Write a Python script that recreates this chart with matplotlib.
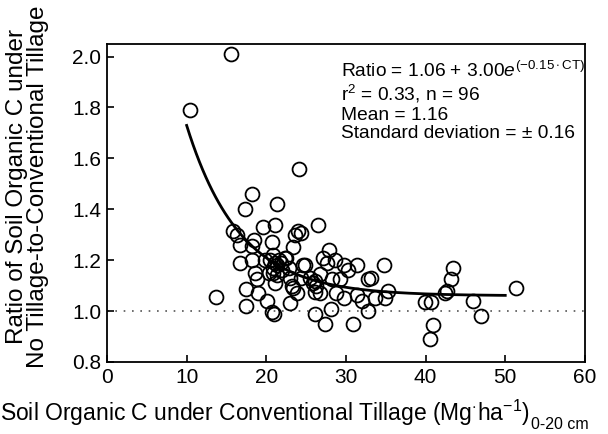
import matplotlib
matplotlib.use('Agg')
import matplotlib.pyplot as plt
import numpy as np

plt.rcParams['font.family'] = ['Liberation Sans', 'DejaVu Sans']
plt.rcParams['mathtext.fontset'] = 'custom'
plt.rcParams['mathtext.rm'] = 'Liberation Sans'
plt.rcParams['mathtext.it'] = 'Liberation Sans:italic'

# soil organic C under conventional tillage (Mg/ha, 0-20 cm)
soc_ct = [10.4, 15.6, 24.1, 18.2, 21.4, 17.3, 15.8, 16.3, 19.6, 21.1,
          26.5, 24.0, 24.3, 18.4, 16.7, 20.7, 23.4, 27.9, 27.1, 27.6,
          16.7, 18.2, 21.1, 22.5, 24.6, 28.6, 29.7, 30.3, 31.4, 34.75,
          32.8, 33.2, 18.6, 18.8, 20.9, 21.1, 23.0, 23.2, 26.7, 28.2,
          29.2, 25.9, 26.3, 26.7, 28.8, 17.5, 19.0, 20.1, 17.5, 20.7,
          21.0, 23.0, 23.8, 26.1, 27.4, 28.1, 30.9, 29.7, 31.4, 32.0,
          33.6, 34.9, 35.3, 32.8, 13.7, 39.9, 40.7, 40.9, 40.6, 42.4,
          42.7, 43.2, 43.5, 46.0, 47.0, 51.4, 24.9, 20.5, 20.9, 21.4,
          20.3, 21.3, 21.9, 22.3, 22.0, 20.8, 21.6, 23.6, 18.2, 24.4,
          25.5, 26.1, 23.4, 26.1, 22.8, 19.8]
# ratio NT / CT
ratio = [1.79, 2.01, 1.56, 1.46, 1.42, 1.40, 1.315, 1.30, 1.33, 1.34,
         1.34, 1.315, 1.305, 1.28, 1.26, 1.27, 1.25, 1.24, 1.21, 1.19,
         1.19, 1.20, 1.19, 1.21, 1.18, 1.20, 1.18, 1.16, 1.18, 1.18,
         1.125, 1.13, 1.15, 1.125, 1.15, 1.11, 1.13, 1.10, 1.145, 1.125,
         1.125, 1.11, 1.10, 1.07, 1.07, 1.085, 1.07, 1.04, 1.02, 0.995,
         0.99, 1.03, 1.07, 0.99, 0.95, 1.01, 0.95, 1.05, 1.065, 1.04,
         1.05, 1.05, 1.08, 1.0, 1.055, 1.035, 1.035, 0.945, 0.89, 1.07,
         1.08, 1.125, 1.17, 1.04, 0.98, 1.09, 1.18, 1.20, 1.22, 1.18,
         1.15, 1.14, 1.19, 1.21, 1.16, 1.17, 1.20, 1.30, 1.255, 1.13,
         1.13, 1.12, 1.09, 1.075, 1.17, 1.20]

fit_a, fit_b, fit_k = 1.06, 3.00, -0.15

fig = plt.figure(figsize=(6.08, 4.34), dpi=100)
ax = fig.add_axes([0.176, 0.166, 0.786, 0.733])

ax.axhline(1.0, color='#555555', linestyle=(0, (1, 4)), linewidth=1.2, zorder=1)
ax.plot(soc_ct, ratio, 'o', mfc='none', mec='black', ms=10, mew=1.3, zorder=2)

xf = np.linspace(10, 50, 200)
ax.plot(xf, fit_a + fit_b * np.exp(fit_k * xf), color='black', lw=2.0, zorder=3)

ax.set_xlim(0, 60)
ax.set_ylim(0.8, 2.05)
ax.set_xticks([0, 10, 20, 30, 40, 50, 60])
ax.set_yticks([0.8, 1.0, 1.2, 1.4, 1.6, 1.8, 2.0])
ax.set_yticklabels(['0.8', '1.0', '1.2', '1.4', '1.6', '1.8', '2.0'])
ax.tick_params(direction='in', length=5, width=1.2, labelsize=15, pad=4)
for s in ax.spines.values():
    s.set_linewidth(1.3)

# axis titles
xl = fig.text(0.0, 0.03, r'Soil Organic C under Conventional Tillage (Mg$^{\cdot}$ha$^{-1}$)',
              fontsize=16.5, ha='left', va='baseline')
fig.canvas.draw()
bb = xl.get_window_extent()
fig.text(bb.x1 / fig.bbox.width + 0.002, 0.012, '0-20 cm', fontsize=11.5,
         ha='left', va='baseline')

fig.text(0.045, 0.57, 'Ratio of Soil Organic C under\nNo Tillage-to-Conventional Tillage',
         fontsize=17.5, rotation=90, ha='center', va='center', linespacing=0.95,
         multialignment='center')

ax.text(0.49, 0.945,
        'Ratio = 1.06 + 3.00$\\mathit{e}^{(\\mathrm{-0.15\\cdot CT})}$\n'
        'r$^{2}$ = 0.33, n = 96\nMean = 1.16\nStandard deviation = \u00b1 0.16',
        transform=ax.transAxes, fontsize=13.8, va='top', ha='left', linespacing=1.1)

fig.savefig('out.png', dpi=100)
